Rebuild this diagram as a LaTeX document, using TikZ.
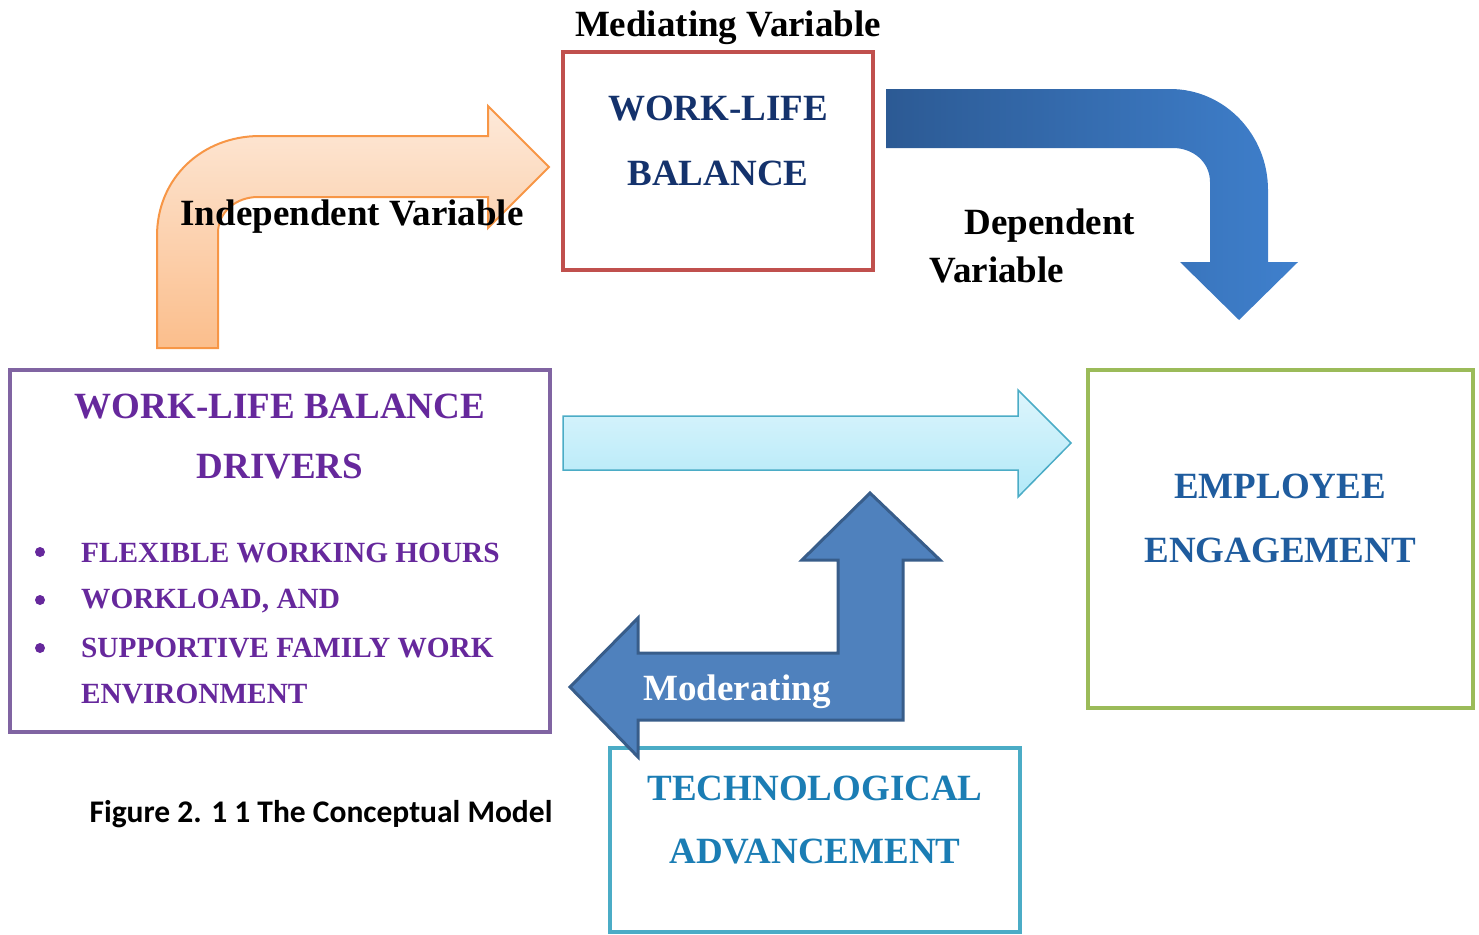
\documentclass[tikz,border=0pt]{standalone}
\usepackage{fontspec}
\setmainfont{Liberation Serif}
\newfontfamily\capfont{Carlito}
\usetikzlibrary{positioning}
\definecolor{medred}{HTML}{C0504D}
\definecolor{drvline}{HTML}{8064A2}
\definecolor{engline}{HTML}{9BBB59}
\definecolor{techline}{HTML}{4BACC6}
\definecolor{navytext}{HTML}{14326C}
\definecolor{drvtext}{HTML}{66289C}
\definecolor{engtext}{HTML}{1F5C9E}
\definecolor{techtext}{HTML}{1B7DB4}
\definecolor{modfill}{HTML}{4F81BD}
\definecolor{modline}{HTML}{385D8A}
\definecolor{depleft}{HTML}{2C5A94}
\definecolor{depright}{HTML}{3F80CD}
\definecolor{indline}{HTML}{F79646}
\definecolor{indtop}{HTML}{FDE9D9}
\definecolor{indbot}{HTML}{FBBE8C}
\definecolor{intop}{HTML}{DDF5FC}
\definecolor{inbot}{HTML}{B2E9F8}
\tikzset{
  box/.style={draw,line width=4pt,inner sep=0pt},
  big/.style={font=\bfseries\fontsize{37}{63}\selectfont,inner sep=0pt,anchor=base},
  item/.style={font=\bfseries\fontsize{29.3}{48}\selectfont,text=drvtext,inner sep=0pt,anchor=base west},
  dot/.style={circle,fill=drvtext,inner sep=0pt,minimum size=10pt},
}

\begin{document}
\begin{tikzpicture}[x=1pt,y=-1pt]
    \useasboundingbox (0,0) rectangle (1479,934);

    \node[box,draw=medred,minimum width=310pt,minimum height=218pt] (med) at (718,161) {};
    \node[box,draw=drvline,minimum width=540pt,minimum height=362pt] (drv) at (280,551) {};
    \node[box,draw=engline,minimum width=385pt,minimum height=338pt] (eng) at (1280.5,539) {};
    \node[box,draw=techline,minimum width=410pt,minimum height=184pt] (tech) at (815,840) {};

    \node[big] (medtitle) at (728,37) {Mediating Variable};
    \foreach \t/\y in {WORK-LIFE/120,BALANCE/185}
      \node[big,text=navytext] (med\y) at (718,\y) {\t};
    \foreach \t/\y in {WORK-LIFE BALANCE/418,DRIVERS/478}
      \node[big,text=drvtext] (drv\y) at (280,\y) {\t};
    \foreach \t/\y in {FLEXIBLE WORKING HOURS/562,{WORKLOAD, AND}/608,SUPPORTIVE FAMILY WORK/657,ENVIRONMENT/703}
      \node[item] (item\y) at (81,\y) {\t};
    \foreach \y in {552,600,648}
      \node[dot] (dot\y) at (40,\y) {};
    \foreach \t/\y in {EMPLOYEE/498,ENGAGEMENT/562}
      \node[big,text=engtext] (eng\y) at (1280,\y) {\t};
    \foreach \t/\y in {TECHNOLOGICAL/800,ADVANCEMENT/863}
      \node[big,text=techtext] (tech\y) at (815,\y) {\t};

    \draw[draw=indline,line width=2pt,top color=indtop,bottom color=indbot]
      (157,348) -- (157,236) .. controls (157,178) and (202,136) .. (260,136)
      -- (488,136) -- (488,106) -- (549,167) -- (488,228) -- (488,197) -- (258,197)
      .. controls (236,197) and (218,212) .. (218,233) -- (218,348) -- cycle;
    \path[left color=depleft,right color=depright]
      (886,89) -- (1170,89) .. controls (1225,89) and (1268,135) .. (1268,190)
      -- (1268,262) -- (1298,262) -- (1239,320) -- (1180,262) -- (1210,262) -- (1210,182)
      .. controls (1210,162) and (1193,148) .. (1173,148) -- (886,148) -- cycle;
    \draw[draw=techline,line width=1.5pt,top color=intop,bottom color=inbot]
      (563,416) -- (1018,416) -- (1018,390) -- (1071,443) -- (1018,497) -- (1018,470) -- (563,470) -- cycle;
    \draw[draw=modline,line width=3pt,fill=modfill]
      (870,493) -- (940,560) -- (903,560) -- (903,720) -- (638,720) -- (638,757) -- (570,687)
      -- (638,618) -- (638,653) -- (838,653) -- (838,560) -- (802,560) -- cycle;

    \node[big] (indep) at (352,225) {Independent Variable};
    \node[big] (dep1) at (1050,234) {Dependent};
    \node[big] (dep2) at (997,282) {Variable};
    \node[big,text=white] (mod) at (737,700) {Moderating};
    \node[font=\capfont\bfseries\fontsize{31.5}{36}\selectfont,inner sep=0pt,anchor=base] (caption) at (321,822) {Figure 2. 1 1 The Conceptual Model};
\end{tikzpicture}
\end{document}
